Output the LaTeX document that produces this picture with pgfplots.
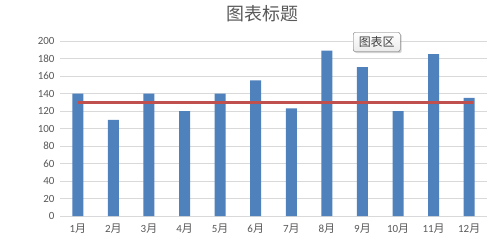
\documentclass[border=0pt]{standalone}
\usepackage{fontspec}
\setmainfont{Carlito}
\newfontfamily\cjk{Noto Sans CJK SC}
\usepackage{pgfplots}
\pgfplotsset{compat=1.18}
\usetikzlibrary{shadows}
\definecolor{barblue}{HTML}{4F81BD}
\definecolor{linered}{HTML}{C0504D}
\definecolor{txtgray}{HTML}{595959}
\definecolor{gridgray}{HTML}{D9D9D9}
\begin{document}
\begin{tikzpicture}[x=1bp,y=1bp]
\useasboundingbox[fill=white] (0,0) rectangle (498,246);
\begin{axis}[
  at={(60bp,30bp)}, anchor=south west,
  scale only axis, width=427bp, height=175bp,
  xmin=0.5, xmax=12.5, ymin=0, ymax=200,
  ytick={0,20,...,200},
  xtick={1,...,12},
  xticklabels={{1{\cjk 月}},{2{\cjk 月}},{3{\cjk 月}},{4{\cjk 月}},{5{\cjk 月}},{6{\cjk 月}},{7{\cjk 月}},{8{\cjk 月}},{9{\cjk 月}},{10{\cjk 月}},{11{\cjk 月}},{12{\cjk 月}}},
  axis line style={draw=none},
  axis x line*=bottom,
  x axis line style={draw=gridgray, line width=0.8pt},
  major tick length=0pt,
  ymajorgrids, grid style={gridgray, line width=0.7pt},
  tick label style={font=\fontsize{11}{12}\selectfont, text=txtgray},
  /pgf/number format/assume math mode=true,
  xticklabel style={yshift=-4bp},
  yticklabel style={xshift=-2bp},
]
\addplot[ybar, bar width=11bp, fill=barblue, draw=none] coordinates {
(1,140) (2,110) (3,140) (4,120) (5,140) (6,155) (7,123) (8,189) (9,170) (10,120) (11,185) (12,135)};
\addplot[linered, line width=2.6bp] coordinates {(1,130) (12.1,130)};
\end{axis}
\node[text=txtgray, font=\cjk\fontsize{18}{20}\selectfont] at (262.5,232.5) {图表标题};
\node[draw=black!60, rounded corners=2bp, top color=white, bottom color=black!8, drop shadow={shadow xshift=1.5bp, shadow yshift=-1.5bp, opacity=0.35}, inner xsep=3bp, inner ysep=1.5bp, minimum width=47bp, minimum height=19bp, font=\cjk\fontsize{12}{13}\selectfont, text=black!75] at (376.7,204) {图表区};
\end{tikzpicture}
\end{document}
